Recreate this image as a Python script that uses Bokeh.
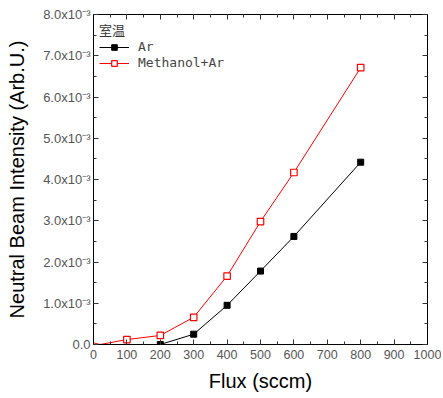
from bokeh.plotting import figure
from bokeh.models import Range1d, LinearAxis, CustomJSTickFormatter, Legend, LegendItem, SingleIntervalTicker
from bokeh.embed import file_html
from bokeh.resources import INLINE

ar_flux = [200, 300, 400, 500, 600, 800]
ar_val = [0.0, 2.5e-4, 9.5e-4, 1.78e-3, 2.62e-3, 4.42e-3]
me_flux = [0, 20, 100, 200, 300, 400, 500, 600, 800]
me_val = [4e-5, 0.0, 1.2e-4, 2.2e-4, 6.6e-4, 1.66e-3, 2.98e-3, 4.17e-3, 6.71e-3]
me_mark_flux = me_flux[2:]
me_mark_val = me_val[2:]

p = figure(width=441, height=394, output_backend="svg", toolbar_location=None,
           x_range=Range1d(0, 1000), y_range=Range1d(0, 8e-3),
           min_border_left=93, min_border_right=14, min_border_top=14, min_border_bottom=50)
p.grid.visible = False
p.outline_line_color = "black"
p.outline_line_width = 1
p.background_fill_color = "white"

yfmt = CustomJSTickFormatter(code="""
if (Math.abs(tick) < 1e-9) return "0.0";
return (tick*1000).toFixed(1) + "x10\u207b\u00b3";
""")
blank = CustomJSTickFormatter(code="return '';")

def style(ax, size="12px"):
    ax.axis_line_color = "black"
    ax.major_tick_in = 5
    ax.major_tick_out = 0
    ax.minor_tick_in = 3
    ax.minor_tick_out = 0
    ax.major_tick_line_color = "#333333"
    ax.minor_tick_line_color = "#333333"
    ax.major_label_text_font = "Liberation Sans"
    ax.major_label_text_font_size = size
    ax.major_label_text_color = "#555555"

p.xaxis.ticker = SingleIntervalTicker(interval=100, num_minor_ticks=2)
p.yaxis.ticker = SingleIntervalTicker(interval=1e-3, num_minor_ticks=2)
p.yaxis.formatter = yfmt
style(p.xaxis[0], "12.5px")
style(p.yaxis[0], "13px")
p.xaxis.axis_label = "Flux (sccm)"
p.yaxis.axis_label = "Neutral Beam Intensity (Arb.U.)"
for ax in (p.xaxis[0], p.yaxis[0]):
    ax.axis_label_text_font = "Liberation Sans"
    ax.axis_label_text_font_size = "20px"
    ax.axis_label_text_font_style = "normal"
    ax.axis_label_text_color = "black"
p.xaxis.axis_label_standoff = 8
p.yaxis.axis_label_standoff = 12
p.xaxis.major_label_standoff = 5
p.yaxis.major_label_standoff = 3

top = LinearAxis(ticker=SingleIntervalTicker(interval=100, num_minor_ticks=2), formatter=blank)
style(top)
top.major_label_standoff = 0
p.add_layout(top, "above")
right = LinearAxis(ticker=SingleIntervalTicker(interval=1e-3, num_minor_ticks=2), formatter=blank)
style(right)
right.major_label_standoff = 0
p.add_layout(right, "right")

r_ar_l = p.line(ar_flux, ar_val, line_color="black", line_width=1)
r_ar_m = p.scatter(ar_flux, ar_val, marker="square", size=6, fill_color="black", line_color="black")
r_me_l = p.line(me_flux, me_val, line_color="red", line_width=1)
r_me_m = p.scatter(me_mark_flux, me_mark_val, marker="square", size=6.5, fill_color="white", line_color="red", line_width=1.2)

legend = Legend(items=[LegendItem(label="Ar", renderers=[r_ar_l, r_ar_m]),
                       LegendItem(label="Methanol+Ar", renderers=[r_me_l, r_me_m])],
                location="top_left", title="室温")
legend.title_text_font = "Noto Sans CJK SC"
legend.title_text_font_size = "13px"
legend.title_text_font_style = "normal"
legend.title_text_color = "#333333"
legend.title_standoff = 0
legend.label_text_font = "DejaVu Sans Mono"
legend.label_text_font_size = "13px"
legend.label_text_color = "#444444"
legend.border_line_color = None
legend.background_fill_alpha = 0
legend.glyph_width = 30
legend.glyph_height = 14
legend.label_height = 14
legend.spacing = 1
legend.padding = 2
legend.margin = 6
legend.label_standoff = 9
p.add_layout(legend)

open("out.html", "w").write(file_html(p, INLINE))
